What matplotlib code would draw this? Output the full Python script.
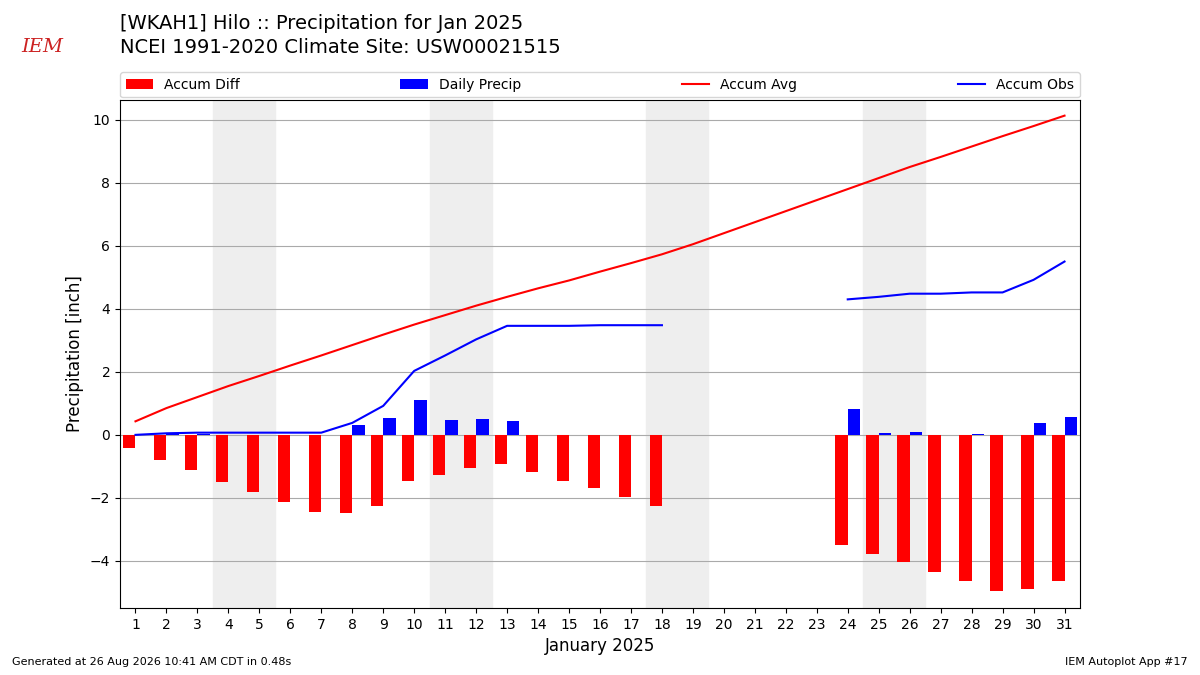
import numpy as np
import matplotlib
matplotlib.use("Agg")
import matplotlib.pyplot as plt

days = np.arange(1, 32)
accum_avg = [0.43, 0.85, 1.2, 1.55, 1.87, 2.2, 2.52, 2.85, 3.18, 3.5, 3.8, 4.1,
             4.38, 4.65, 4.9, 5.18, 5.45, 5.73, 6.05, 6.4, 6.75, 7.1, 7.45, 7.8,
             8.15, 8.5, 8.82, 9.15, 9.48, 9.8, 10.13]
nan = np.nan
accum_obs = [0.0, 0.05, 0.07, 0.07, 0.07, 0.07, 0.07, 0.38, 0.92, 2.03, 2.52,
             3.03, 3.46, 3.46, 3.46, 3.48, 3.48, 3.48, nan, nan, nan, nan, nan,
             4.3, 4.38, 4.48, 4.48, 4.52, 4.52, 4.92, 5.5]
daily = [0, 0.05, 0.02, 0, 0, 0, 0, 0.31, 0.54, 1.1, 0.48, 0.51, 0.43, 0, 0,
         0, 0, 0, nan, nan, nan, nan, nan, 0.82, 0.06, 0.1, 0, 0.03, 0, 0.38, 0.58]
diff = [-0.43, -0.8, -1.13, -1.48, -1.8, -2.13, -2.45, -2.47, -2.25, -1.45,
        -1.27, -1.05, -0.92, -1.19, -1.45, -1.7, -1.97, -2.25, nan, nan, nan,
        nan, nan, -3.5, -3.77, -4.02, -4.34, -4.63, -4.96, -4.9, -4.65]
weekends = [(3.5, 5.5), (10.5, 12.5), (17.5, 19.5), (24.5, 26.5)]

fig = plt.figure(figsize=(12, 6.75), dpi=100)
ax = fig.add_axes([0.1, 0.099, 0.8, 0.753])

for a, b in weekends:
    ax.axvspan(a, b, color="#eeeeee", zorder=0)

ax.bar(days, diff, width=-0.4, align="edge", color="r", label="Accum Diff", zorder=2)
ax.bar(days, daily, width=0.4, align="edge", color="b", label="Daily Precip", zorder=2)
ax.plot(days, accum_avg, color="r", label="Accum Avg", zorder=3)
ax.plot(days, accum_obs, color="b", label="Accum Obs", zorder=3)

ax.set_xlim(0.5, 31.5)
ax.set_ylim(-5.5, 10.63)
ax.set_xticks(days)
ax.grid(axis="y", color="#aaaaaa", zorder=1)
ax.set_axisbelow(True)
ax.set_xlabel("January 2025", fontsize=12)
ax.set_ylabel("Precipitation [inch]", fontsize=12)

h, l = ax.get_legend_handles_labels()
order = [2, 3, 0, 1]
ax.legend([h[i] for i in order], [l[i] for i in order], ncol=4,
          loc="lower left", bbox_to_anchor=(0, 1.005, 1, 0.05), mode="expand",
          borderaxespad=0)

fig.text(0.1, 0.965, "[WKAH1] Hilo :: Precipitation for Jan 2025", fontsize=14, va="center")
fig.text(0.1, 0.93, "NCEI 1991-2020 Climate Site: USW00021515", fontsize=14, va="center")
fig.text(0.018, 0.93, "IEM", fontsize=14, color="#cc2222", style="italic",
         family="DejaVu Serif", va="center")
fig.text(0.01, 0.015, "Generated at 26 Aug 2026 10:41 AM CDT in 0.48s", fontsize=8)
fig.text(0.99, 0.015, "IEM Autoplot App #17", fontsize=8, ha="right")

fig.savefig("out.png", dpi=100)
